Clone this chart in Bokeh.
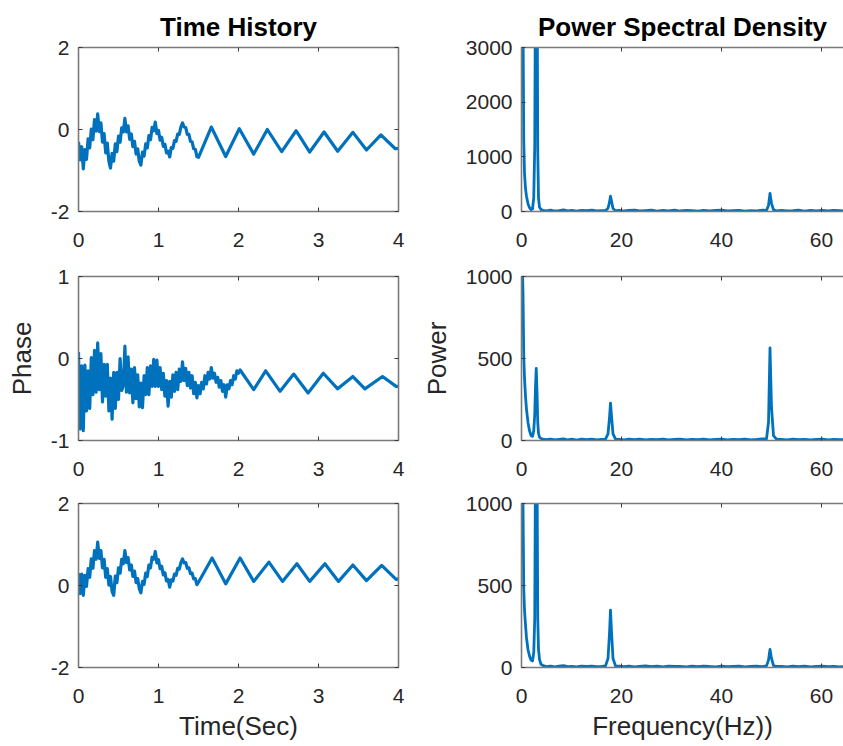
import numpy as np
from bokeh.plotting import figure
from bokeh.models import Range1d, FixedTicker, LinearAxis, CustomJSTickFormatter
from bokeh.layouts import gridplot
from bokeh.embed import file_html
from bokeh.resources import INLINE

BLUE = "#0072BD"
FONT = "Liberation Sans"

# ---------------- time histories ----------------
dt = 0.02  # sample spacing of the noisy start segment (s)

top_noisy = [-0.30, -0.74, -0.42, -0.96, -0.49, -0.73, -0.23, -0.45, 0.01, -0.25,
             0.24, -0.04, 0.38, -0.05, 0.16, -0.31, -0.10, -0.57, -0.33, -0.78,
             -0.94, -0.58, -0.77, -0.35, -0.54, -0.16, -0.31, 0.04, -0.06, 0.27,
             -0.06, 0.09, -0.24, -0.11, -0.42, -0.29, -0.60, -0.47, -0.78, -0.87,
             -0.55, -0.65, -0.35, -0.45, -0.15, -0.25, 0.05, -0.03, 0.18, -0.10,
             -0.02, -0.26, -0.19, -0.41, -0.36, -0.57, -0.53, -0.67, -0.44, -0.46,
             -0.27, -0.29, -0.11, -0.12, 0.06, 0.16, 0.06, 0.05, -0.12, -0.12,
             -0.29, -0.30, -0.47, -0.48, -0.66, -0.68]
top_key_t = [1.66, 1.84, 2.01, 2.19, 2.36, 2.54, 2.72, 2.89, 3.07, 3.24, 3.43, 3.60, 3.78, 3.96, 4.00]
top_key_v = [0.06, -0.66, 0.02, -0.60, 0.00, -0.54, -0.03, -0.55, -0.06, -0.53, -0.07, -0.50, -0.13, -0.47, -0.46]

mid_noisy = [0.08, -0.86, -0.09, -0.88, -0.08, -0.64, -0.15, -0.61, 0.01, -0.44,
             0.10, -0.41, 0.19, -0.38, 0.06, -0.53, -0.07, -0.46, -0.07, -0.64,
             -0.24, -0.74, -0.17, -0.61, -0.17, -0.50, 0.00, -0.39, -0.33, 0.15,
             -0.41, 0.02, -0.42, -0.13, -0.54, -0.11, -0.49, -0.20, -0.59, -0.30,
             -0.60, -0.21, -0.44, -0.11, -0.44, -0.09, -0.34, -0.01, -0.34, -0.02,
             -0.34, -0.11, -0.38, -0.18, -0.46, -0.27, -0.58, -0.28, -0.47, -0.20,
             -0.40, -0.17, -0.38, -0.13, -0.28, -0.04, -0.27, -0.12, -0.33, -0.17,
             -0.36, -0.21, -0.43, -0.29, -0.48, -0.33, -0.43, -0.29, -0.37, -0.21,
             -0.31, -0.17, -0.25, -0.11, -0.24, -0.18, -0.29, -0.23, -0.35, -0.27,
             -0.40, -0.32, -0.47, -0.32, -0.37, -0.27, -0.32, -0.21, -0.25, -0.15,
             -0.18]
mid_key_t = [2.02, 2.19, 2.34, 2.52, 2.69, 2.87, 3.06, 3.24, 3.43, 3.58, 3.80, 3.97, 4.00]
mid_key_v = [-0.14, -0.38, -0.15, -0.40, -0.19, -0.42, -0.18, -0.37, -0.22, -0.37, -0.22, -0.34, -0.34]

bot_noisy = [0.30, -0.20, 0.28, -0.24, 0.25, -0.02, 0.41, 0.20, 0.65, 0.42,
             0.85, 0.64, 1.06, 0.66, 0.85, 0.43, 0.64, 0.20, 0.41, 0.01,
             0.22, -0.15, -0.24, 0.23, 0.07, 0.43, 0.30, 0.64, 0.53, 0.85,
             0.56, 0.68, 0.38, 0.50, 0.22, 0.35, 0.07, 0.17, -0.08, -0.18,
             0.10, 0.03, 0.30, 0.22, 0.50, 0.43, 0.69, 0.64, 0.83, 0.55,
             0.63, 0.41, 0.47, 0.26, 0.31, 0.11, 0.15, -0.04, 0.14, 0.11,
             0.28, 0.25, 0.42, 0.40, 0.56, 0.65, 0.55, 0.56, 0.42, 0.43,
             0.29, 0.30, 0.16, 0.17, 0.02, 0.08]
bot_key_t = [1.67, 1.84, 2.02, 2.19, 2.38, 2.55, 2.73, 2.89, 3.08, 3.25, 3.43, 3.60, 3.79, 3.97, 4.00]
bot_key_v = [0.67, 0.04, 0.67, 0.10, 0.57, 0.10, 0.53, 0.10, 0.53, 0.10, 0.50, 0.12, 0.49, 0.15, 0.16]

# ---------------- power spectral densities ----------------
freq = [0.0, 0.15, 0.3, 0.45, 0.6, 0.8, 1.0, 1.3, 1.6, 1.9, 2.2, 2.45, 2.65, 2.8, 2.95, 3.1, 3.25, 3.4, 3.6, 3.9, 4.3,
        5.0, 5.8, 6.7, 7.5, 8.4, 9.2, 10.1, 11.0, 12.0, 13.0, 14.1, 15.0, 16.0,
        16.8, 17.3, 17.6, 17.8, 18.0, 18.3, 18.8,
        19.6, 20.5, 21.5, 22.6, 23.6, 24.8, 26.0, 27.1, 28.3, 29.4, 30.6, 31.7, 33.0, 34.1, 35.3, 36.4,
        37.6, 38.8, 40.0, 41.2, 42.3, 43.5, 44.7, 45.8, 47.0, 48.2,
        49.0, 49.4, 49.7, 50.0, 50.4, 51.0,
        52.0, 53.1, 54.3, 55.4, 56.6, 57.8, 59.0, 60.2, 61.3, 62.5, 63.6, 64.4]

psd_top = [9000, 7000, 3600, 1300, 700, 420, 280, 140, 70, 35, 45, 250, 1200, 4500, 9000, 5000, 1100, 250, 80, 35, 20,
           12, 25, 9, 18, 30, 11, 20, 8, 22, 14, 26, 10, 17,
           15, 60, 170, 280, 190, 55, 15,
           22, 9, 18, 27, 10, 16, 24, 8, 19, 12, 25, 9, 20, 14, 7, 22,
           11, 18, 26, 9, 15, 21, 8, 17, 12, 24,
           18, 110, 330, 150, 30, 12,
           20, 9, 16, 25, 8, 18, 12, 22, 10, 19, 14, 9]
psd_mid = [1200, 1100, 900, 520, 380, 270, 190, 110, 60, 30, 25, 60, 160, 330, 440, 300, 110, 45, 20, 12, 8,
           5, 9, 4, 7, 10, 4, 8, 3, 9, 5, 8, 4, 6,
           8, 40, 140, 228, 150, 40, 8,
           7, 4, 9, 5, 8, 3, 7, 5, 9, 4, 6, 8, 3, 7, 5, 9,
           4, 6, 8, 3, 7, 5, 9, 4, 6, 10,
           10, 110, 565, 200, 30, 8,
           6, 4, 8, 5, 7, 3, 6, 9, 4, 7, 5, 6]
psd_bot = [1500, 1300, 1000, 480, 350, 260, 180, 110, 70, 45, 40, 90, 300, 1300, 2200, 1300, 300, 110, 50, 20, 12,
           6, 9, 4, 8, 11, 5, 7, 4, 9, 6, 8, 5, 7,
           10, 55, 210, 350, 220, 55, 10,
           8, 5, 9, 4, 7, 10, 5, 8, 4, 9, 6, 7, 4, 8, 5, 9,
           6, 4, 8, 5, 7, 9, 4, 6, 8, 5,
           10, 45, 110, 55, 12, 6,
           7, 4, 8, 5, 9, 4, 6, 8, 5, 7, 4, 6]

time_ticks = [0, 1, 2, 3, 4]
freq_ticks = [0, 20, 40, 60]
yticks_top_l = [-2, 0, 2]
yticks_mid_l = [-1, 0, 1]
yticks_bot_l = [-2, 0, 2]
yticks_top_r = [0, 1000, 2000, 3000]
yticks_mid_r = [0, 500, 1000]
yticks_bot_r = [0, 500, 1000]


def series(noisy, key_t, key_v):
    t = np.concatenate([np.arange(len(noisy)) * dt, np.array(key_t)])
    v = np.concatenate([np.array(noisy), np.array(key_v)])
    return t, v


def style_axis(ax, ticks, labels=True):
    ax.ticker = FixedTicker(ticks=ticks)
    ax.minor_tick_line_color = None
    ax.major_tick_in = 4
    ax.major_tick_out = 0
    ax.major_tick_line_color = "#3a3a3a"
    ax.major_tick_line_width = 1
    ax.axis_line_color = "#7a7a7a"
    ax.axis_line_width = 1.6
    ax.major_label_text_font = FONT
    ax.major_label_text_font_size = "21px"
    ax.major_label_text_color = "#262626"
    ax.axis_label_text_font = FONT
    ax.axis_label_text_font_size = "26px"
    ax.axis_label_text_font_style = "normal"
    ax.axis_label_text_color = "#262626"
    if labels:
        ax.major_label_overrides = {t: str(t) for t in ticks}
    else:
        ax.formatter = CustomJSTickFormatter(code="return ''")
        ax.major_label_standoff = 0


def panel(left_col, x_end, yr, xticks, yticks, height, btop, bbot, title=None, xlabel=None, ylabel=None):
    if left_col:
        w, bl, br = 416, 78, 18
    else:
        w, bl, br = 427, 105, 0
    p = figure(width=w, height=height, output_backend="svg", toolbar_location=None,
               x_range=Range1d(0, x_end), y_range=Range1d(yr[0], yr[1]),
               min_border_left=bl, min_border_right=br, min_border_top=btop, min_border_bottom=bbot,
               title=title)
    p.outline_line_color = None
    p.xgrid.visible = False
    p.ygrid.visible = False
    p.background_fill_color = "white"
    p.border_fill_color = "white"
    style_axis(p.xaxis[0], xticks)
    style_axis(p.yaxis[0], yticks)
    p.xaxis[0].major_label_standoff = 21
    p.yaxis[0].major_label_standoff = 9
    p.xaxis[0].axis_label_standoff = 5
    p.yaxis[0].axis_label_standoff = 11
    if xlabel:
        p.xaxis[0].axis_label = xlabel
    if ylabel:
        p.yaxis[0].axis_label = ylabel
    top = LinearAxis()
    style_axis(top, xticks, labels=False)
    p.add_layout(top, "above")
    if left_col:
        right = LinearAxis()
        style_axis(right, yticks, labels=False)
        p.add_layout(right, "right")
    if title:
        p.title.text_font = FONT
        p.title.text_font_size = "26px"
        p.title.text_font_style = "bold"
        p.title.text_color = "#000000"
        p.title.align = "center"
        p.title.standoff = 11
    return p


H = [257, 229, 259]
BT = [47, 19, 17]
BB = [46, 46, 78]

p1 = panel(True, 4, (-2, 2), time_ticks, yticks_top_l, H[0], BT[0], BB[0], title="Time History")
p2 = panel(False, 64.4, (0, 3000), freq_ticks, yticks_top_r, H[0], BT[0], BB[0], title="Power Spectral Density")
p3 = panel(True, 4, (-1, 1), time_ticks, yticks_mid_l, H[1], BT[1], BB[1], ylabel="Phase")
p4 = panel(False, 64.4, (0, 1000), freq_ticks, yticks_mid_r, H[1], BT[1], BB[1], ylabel="Power")
p5 = panel(True, 4, (-2, 2), time_ticks, yticks_bot_l, H[2], BT[2], BB[2], xlabel="Time(Sec)")
p6 = panel(False, 64.4, (0, 1000), freq_ticks, yticks_bot_r, H[2], BT[2], BB[2], xlabel="Frequency(Hz))")

for p, (n, kt, kv) in zip([p1, p3, p5], [(top_noisy, top_key_t, top_key_v),
                                         (mid_noisy, mid_key_t, mid_key_v),
                                         (bot_noisy, bot_key_t, bot_key_v)]):
    t, v = series(n, kt, kv)
    p.line(t, v, line_color=BLUE, line_width=3.2, line_join="round")

for p, pw in zip([p2, p4, p6], [psd_top, psd_mid, psd_bot]):
    p.line(freq, pw, line_color=BLUE, line_width=2.8, line_join="round")

grid = gridplot([[p1, p2], [p3, p4], [p5, p6]], toolbar_location=None)
open("out.html", "w").write(file_html(grid, INLINE))
